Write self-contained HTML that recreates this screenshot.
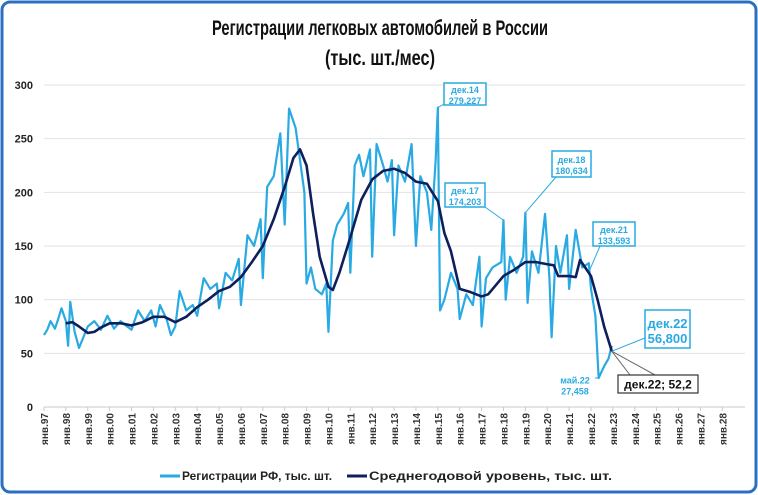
<!DOCTYPE html>
<html><head><meta charset="utf-8"><style>
html,body{margin:0;padding:0;background:#fff;}
svg{display:block;font-family:"Liberation Sans","DejaVu Sans",sans-serif;}
</style></head><body>
<svg id="chart" width="758" height="495" viewBox="0 0 758 495">
<rect x="2" y="2" width="754" height="490" rx="8" fill="#fff" stroke="#2c6fc0" stroke-width="3"/>
<text x="380" y="35" text-anchor="middle" font-size="21" font-weight="bold" fill="#111" textLength="336" lengthAdjust="spacingAndGlyphs">Регистрации легковых автомобилей в России</text>
<text x="380" y="65" text-anchor="middle" font-size="21" font-weight="bold" fill="#111" textLength="110" lengthAdjust="spacingAndGlyphs">(тыс. шт./мес)</text>
<g id="grid"></g><g id="xaxis"></g><g id="series"></g><g id="notes"></g>
<g>
<g>
<line x1="160" y1="476" x2="180" y2="476" stroke="#29aae2" stroke-width="3"/>
<text x="182" y="480" font-size="11.5" font-weight="bold" fill="#222" textLength="150" lengthAdjust="spacingAndGlyphs">Регистрации РФ, тыс. шт.</text>
</g>
<g>
<line x1="347" y1="476" x2="367" y2="476" stroke="#0d1f5c" stroke-width="3"/>
<text x="369" y="480" font-size="11.5" font-weight="bold" fill="#222" textLength="243" lengthAdjust="spacingAndGlyphs">Среднегодовой уровень, тыс. шт.</text>
</g>
</g>
</svg>
<script>
const yTicks=[0,50,100,150,200,250,300];
const xYears=[97,98,99,0,1,2,3,4,5,6,7,8,9,10,11,12,13,14,15,16,17,18,19,20,21,22,23,24,25,26,27,28];
const rawT=[1997.0,1997.15,1997.3,1997.5,1997.65,1997.8,1998.0,1998.1,1998.2,1998.4,1998.6,1998.8,1999.0,1999.3,1999.6,1999.9,2000.2,2000.5,2000.8,2001.0,2001.3,2001.6,2001.9,2002.1,2002.3,2002.6,2002.8,2003.0,2003.2,2003.5,2003.8,2004.0,2004.3,2004.6,2004.9,2005.0,2005.3,2005.6,2005.9,2006.0,2006.3,2006.6,2006.9,2007.0,2007.2,2007.5,2007.8,2008.0,2008.2,2008.5,2008.7,2008.9,2009.0,2009.2,2009.4,2009.7,2009.9,2010.0,2010.2,2010.4,2010.7,2010.9,2011.0,2011.2,2011.4,2011.6,2011.9,2012.0,2012.2,2012.5,2012.7,2012.9,2013.0,2013.2,2013.5,2013.8,2014.0,2014.2,2014.5,2014.7,2014.9,2015.0,2015.1,2015.3,2015.6,2015.9,2016.0,2016.3,2016.6,2016.9,2017.0,2017.2,2017.5,2017.9,2018.0,2018.1,2018.3,2018.6,2018.9,2019.0,2019.1,2019.3,2019.6,2019.9,2020.1,2020.2,2020.4,2020.6,2020.9,2021.0,2021.3,2021.6,2021.9,2022.0,2022.2,2022.35,2022.6,2022.8,2022.95];
const rawV=[67,72,80,73,82,92,80,57,98,70,55,65,75,80,72,85,73,80,75,72,90,80,90,75,95,82,67,75,108,90,95,85,120,110,115,92,125,118,138,95,160,150,175,120,205,215,255,170,278,260,230,200,115,130,110,105,115,70,155,170,180,190,125,225,235,215,240,140,245,225,210,230,160,225,210,245,150,215,200,165,230,279,90,100,125,110,82,105,95,140,75,120,130,135,174,100,140,125,140,181,97,145,125,180,120,65,150,125,160,110,165,130,134,110,85,27,38,45,57];
const avgT=[1998.0,1998.3,1998.6,1999.0,1999.3,1999.6,2000.0,2000.5,2001.0,2001.5,2002.0,2002.5,2003.0,2003.5,2004.0,2004.5,2005.0,2005.5,2006.0,2006.5,2007.0,2007.5,2008.0,2008.4,2008.7,2009.0,2009.3,2009.6,2010.0,2010.2,2010.5,2011.0,2011.5,2012.0,2012.5,2013.0,2013.5,2014.0,2014.5,2014.9,2015.0,2015.3,2015.6,2016.0,2016.5,2017.0,2017.3,2018.0,2018.5,2019.0,2019.5,2020.0,2020.3,2020.5,2021.0,2021.3,2021.5,2021.8,2022.0,2022.3,2022.6,2022.95];
const avgV=[78,79,75,69,70,74,78,78,76,79,84,84,79,84,93,100,108,112,121,135,150,175,205,232,240,225,180,140,112,109,125,158,193,212,220,222,218,210,208,195,192,162,145,110,107,103,105,122,128,135,135,133,132,122,122,121,137,128,122,100,75,52];
const X0=44,PX=21.88,Y0=407,PY=322/300;
const sx=t=>X0+(t-1997)*PX, sy=v=>Y0-v*PY;
const NS="http://www.w3.org/2000/svg";
function mk(tag,attrs,parent){const e=document.createElementNS(NS,tag);for(const k in attrs)e.setAttribute(k,attrs[k]);parent.appendChild(e);return e;}
const grid=document.getElementById('grid');
yTicks.forEach(v=>{
 const l=mk('line',{x1:X0,x2:745,y1:sy(v),y2:sy(v),stroke:v===0?'#c8c8c8':'#e2e2e2','stroke-width':1},grid);
 
 
 const t=mk('text',{x:33,y:sy(v)+4,'text-anchor':'end','font-size':11,'font-weight':'bold',fill:'#222'},grid);
 t.textContent=v;
 
 
});
const xa=document.getElementById('xaxis');
xYears.forEach(y=>{
 const yr=y>=90?1900+y:2000+y;const x=sx(yr);
 mk('line',{x1:x,x2:x,y1:Y0,y2:Y0+4,stroke:'#c8c8c8'},xa);
 const lab='янв.'+String(y).padStart(2,'0');
 const t=mk('text',{x:0,y:0,transform:`translate(${x+4},${Y0+6}) rotate(-90)`,'text-anchor':'end','font-size':10,'font-weight':'bold',fill:'#333'},xa);
 t.textContent=lab;
 
 
});
const sg=document.getElementById('series');
const p1=mk('polyline',{points:rawT.map((t,i)=>sx(t)+','+sy(rawV[i])).join(' '),fill:'none',stroke:'#29aae2','stroke-width':2.2,'stroke-linejoin':'round'},sg);


const p2=mk('polyline',{points:avgT.map((t,i)=>sx(t)+','+sy(avgV[i])).join(' '),fill:'none',stroke:'#0d1f5c','stroke-width':2.6,'stroke-linejoin':'round'},sg);


const notes=[
 {n:'dec14',l1:'дек.14',l2:'279,227',bx:444,by:83,bw:42,bh:22,ax:sx(2015.0),ay:sy(279),lx:444,ly:104,fs:9,c:'#29aae2',b:true},
 {n:'dec17',l1:'дек.17',l2:'174,203',bx:445,by:183,bw:40,bh:24,ax:sx(2018.0),ay:sy(174),lx:485,ly:207,fs:9,c:'#29aae2',b:true},
 {n:'dec18',l1:'дек.18',l2:'180,634',bx:552,by:151,bw:39,bh:26,ax:sx(2019.0),ay:sy(181),lx:556,ly:177,fs:9,c:'#29aae2',b:true},
 {n:'dec21',l1:'дек.21',l2:'133,593',bx:593,by:222,bw:42,bh:24,ax:sx(2021.95),ay:sy(128),lx:600,ly:246,fs:9,c:'#29aae2',b:true},
 {n:'dec22-raw',l1:'дек.22',l2:'56,800',bx:645,by:310,bw:45,bh:38,ax:sx(2022.95),ay:sy(52),lx:645,ly:338,fs:13,c:'#29aae2',b:true},
 {n:'may22',l1:'май.22',l2:'27,458',bx:555,by:371,bw:40,bh:27,ax:sx(2022.35),ay:sy(27),lx:595,ly:378,fs:9,c:'#29aae2',b:false}
];
const ng=document.getElementById('notes');
notes.forEach(o=>{
 const g=mk('g',{},ng);
 
 
 mk('line',{x1:o.lx,y1:o.ly,x2:o.ax,y2:o.ay,stroke:o.c,'stroke-width':1},g);
 mk('rect',{x:o.bx,y:o.by,width:o.bw,height:o.bh,fill:'#fff',stroke:o.b?o.c:'none','stroke-width':1.5},g);
 const cx=o.bx+o.bw/2,lh=o.fs+2;
 const t1=mk('text',{x:cx,y:o.by+o.bh/2-1,'text-anchor':'middle','font-size':o.fs,'font-weight':'bold',fill:o.c},g);t1.textContent=o.l1;
 const t2=mk('text',{x:cx,y:o.by+o.bh/2-1+lh,'text-anchor':'middle','font-size':o.fs,'font-weight':'bold',fill:o.c},g);t2.textContent=o.l2;
});
const ag=mk('g',{},ng);


const px=sx(2022.95),py=sy(52);
mk('line',{x1:px,y1:py,x2:630,y2:375,stroke:'#666','stroke-width':1},ag);
mk('line',{x1:px,y1:py,x2:655,y2:375,stroke:'#666','stroke-width':1},ag);
mk('rect',{x:618,y:375,width:80,height:18,fill:'#fff',stroke:'#333','stroke-width':1.2},ag);
const at=mk('text',{x:658,y:388.5,'text-anchor':'middle','font-size':12,'font-weight':'bold',fill:'#111'},ag);at.textContent='дек.22;  52,2';
</script>
</body></html>
